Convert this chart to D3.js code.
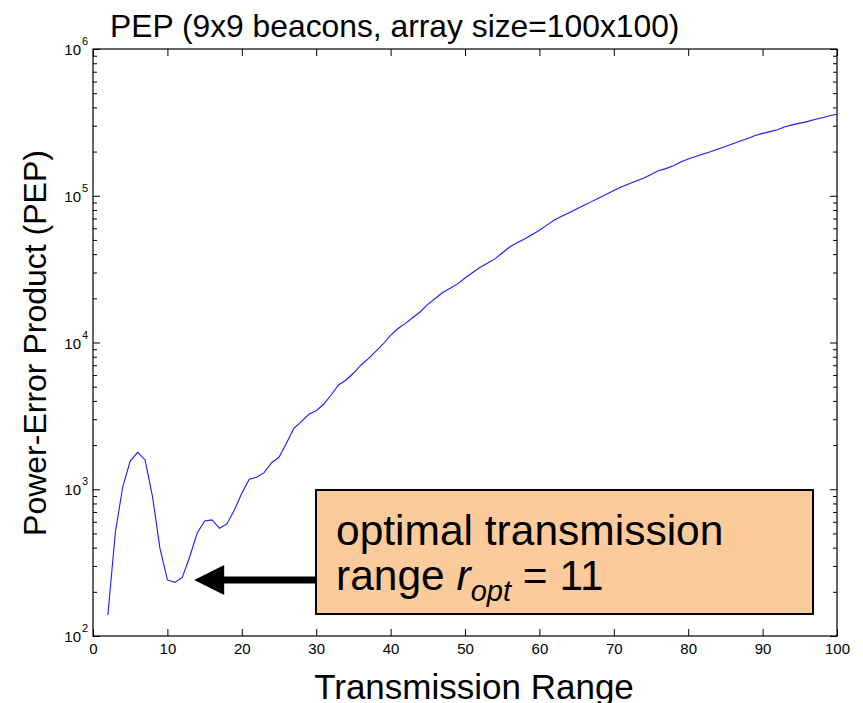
<!DOCTYPE html>
<html>
<head>
<meta charset="utf-8">
<script src="https://cdn.jsdelivr.net/npm/d3@7"></script>
<style>
  html, body { margin: 0; padding: 0; background: #fff; }
  svg { display: block; font-family: Arial, "Liberation Sans", Helvetica, sans-serif; }
</style>
</head>
<body>
<svg id="chart" width="863" height="703"></svg>
<script>
// ---- data ----
const ranges = [2,3,4,5,6,7,8,9,10,11,12,13,14,15,16,17,18,19,20,21,22,23,24,25,26,27,28,29,30,31,32,33,34,35,36,37,38,39,40,41,42,43,44,45,46,47,48,49,50,51,52,53,54,55,56,57,58,59,60,61,62,63,64,65,66,67,68,69,70,71,72,73,74,75,76,77,78,79,80,81,82,83,84,85,86,87,88,89,90,91,92,93,94,95,96,97,98,99,100];
const pep = [139,506,1040,1557,1786,1583,890,396,241,232,251,347,501,608,618,542,580,722,938,1169,1206,1297,1517,1651,2056,2603,2886,3243,3430,3793,4388,5134,5550,6170,7000,7760,8710,9770,11200,12450,13500,14800,16200,18200,19950,21900,23400,25100,27500,29850,32400,34700,37150,40700,44700,47900,50700,54300,58200,63100,68400,72400,76700,81300,86100,91200,96600,102300,108400,114800,120200,125900,131800,139600,147900,153100,160300,169800,177800,184900,192800,199500,208000,216300,226500,236000,245500,257000,266100,273500,281800,295100,304100,312600,319900,331100,340400,350800,359000];
const xTicks = [0,10,20,30,40,50,60,70,80,90,100];
const yMajor = [2,3,4,5,6];           // exponents: 10^2 .. 10^6
const titleText = "PEP (9x9 beacons, array size=100x100)";
const xLabel = "Transmission Range";
const yLabel = "Power-Error Product (PEP)";
const optRange = 11;
const noteLine1 = "optimal transmission";

// ---- layout ----
const pL = 93, pR = 837, pT = 49, pB = 636;
const svg = d3.select("#chart");
const x = d3.scaleLinear().domain([0, 100]).range([pL, pR]);
const y = d3.scaleLog().domain([1e2, 1e6]).range([pB, pT]);

const minorVals = [];
for (let e = 2; e < 6; e++) for (let m = 2; m <= 9; m++) minorVals.push(m * Math.pow(10, e));
const majorVals = yMajor.map(e => Math.pow(10, e));

// axes with inward ticks
const gB = svg.append("g").attr("transform", `translate(0,${pB})`)
  .call(d3.axisBottom(x).tickValues(xTicks).tickSizeInner(-7).tickSizeOuter(0).tickPadding(7).tickFormat(d3.format("d")));
const gT = svg.append("g").attr("transform", `translate(0,${pT})`)
  .call(d3.axisTop(x).tickValues(xTicks).tickSizeInner(-7).tickSizeOuter(0).tickFormat(""));
const gL = svg.append("g").attr("transform", `translate(${pL},0)`)
  .call(d3.axisLeft(y).tickValues(majorVals).tickSizeInner(-7).tickSizeOuter(0).tickFormat(""));
const gLm = svg.append("g").attr("transform", `translate(${pL},0)`)
  .call(d3.axisLeft(y).tickValues(minorVals).tickSizeInner(-4).tickSizeOuter(0).tickFormat(""));
const gR = svg.append("g").attr("transform", `translate(${pR},0)`)
  .call(d3.axisRight(y).tickValues(majorVals).tickSizeInner(-7).tickSizeOuter(0).tickFormat(""));
const gRm = svg.append("g").attr("transform", `translate(${pR},0)`)
  .call(d3.axisRight(y).tickValues(minorVals).tickSizeInner(-4).tickSizeOuter(0).tickFormat(""));

[gB, gT, gL, gLm, gR, gRm].forEach(g => {
  g.select(".domain").remove();
  g.selectAll("line").attr("stroke", "#000").attr("stroke-width", 1);
});
gB.selectAll("text").attr("font-size", 15).attr("fill", "#000")
  .attr("font-family", "Arial, 'Liberation Sans', sans-serif");

// frame
svg.append("rect").attr("x", pL).attr("y", pT)
  .attr("width", pR - pL).attr("height", pB - pT)
  .attr("fill", "none").attr("stroke", "#000").attr("stroke-width", 1.2);

// y tick labels 10^n
svg.append("g").selectAll("text").data(yMajor).join("text")
  .attr("x", 81).attr("y", d => y(Math.pow(10, d)) + 6)
  .attr("text-anchor", "end").attr("font-size", 15).attr("fill", "#000")
  .text("10");
svg.append("g").selectAll("text").data(yMajor).join("text")
  .attr("x", 82).attr("y", d => y(Math.pow(10, d)) - 4)
  .attr("font-size", 11).attr("fill", "#000")
  .text(d => d);

// line
const line = d3.line().x((d, i) => x(ranges[i])).y(d => y(d));
svg.append("path").datum(pep).attr("d", line)
  .attr("fill", "none").attr("stroke", "#1a1aff").attr("stroke-width", 1.1);

// titles
svg.append("text").attr("x", 110).attr("y", 37).attr("font-size", 31.8).attr("fill", "#000")
  .text(titleText);
svg.append("text").attr("x", 474).attr("y", 699).attr("text-anchor", "middle")
  .attr("font-size", 35).attr("fill", "#000").text(xLabel);
svg.append("text").attr("transform", "translate(46,343) rotate(-90)")
  .attr("text-anchor", "middle").attr("font-size", 32).attr("fill", "#000").text(yLabel);

// annotation: arrow
const arrowY = 580;
const tipX = x(13.6);
svg.append("line").attr("x1", tipX + 28).attr("x2", 316).attr("y1", arrowY).attr("y2", arrowY)
  .attr("stroke", "#000").attr("stroke-width", 7);
svg.append("path")
  .attr("d", `M${tipX},${arrowY} L${tipX + 30},${arrowY - 15} L${tipX + 30},${arrowY + 15} Z`)
  .attr("fill", "#000");

// annotation box
svg.append("rect").attr("x", 316).attr("y", 490).attr("width", 497).attr("height", 124)
  .attr("fill", "#fbcb9c").attr("stroke", "#000").attr("stroke-width", 2);
svg.append("text").attr("x", 336).attr("y", 545).attr("font-size", 42.5).attr("fill", "#000")
  .text(noteLine1);
const t2 = svg.append("text").attr("x", 336).attr("y", 590).attr("font-size", 42.5).attr("fill", "#000");
t2.append("tspan").text("range ");
t2.append("tspan").attr("font-style", "italic").text("r");
t2.append("tspan").attr("font-style", "italic").attr("font-size", 29).attr("dy", 11).text("opt");
t2.append("tspan").attr("dy", -11).text(" = " + optRange);
</script>
</body>
</html>
